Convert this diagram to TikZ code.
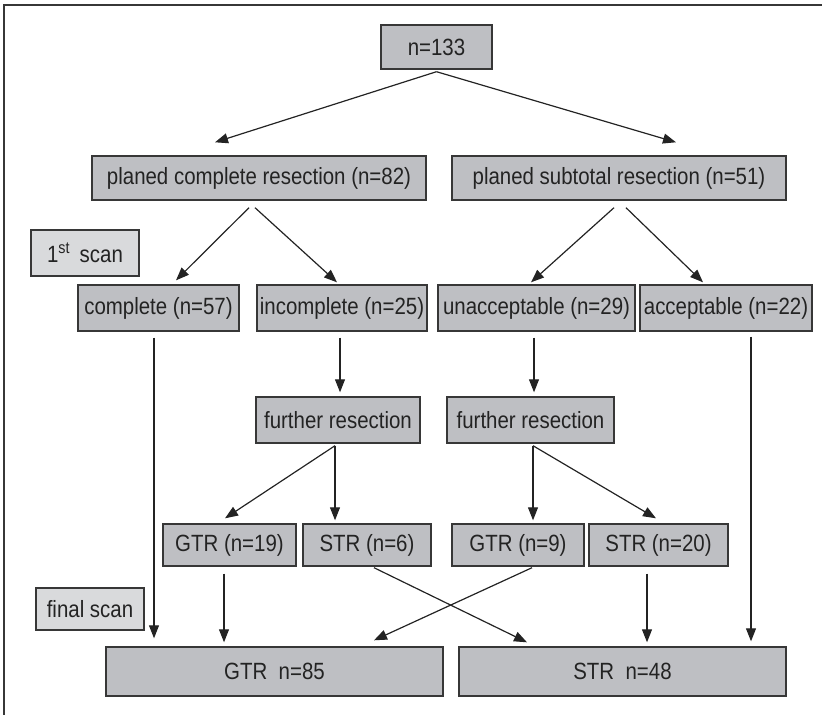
\documentclass[tikz,border=0pt]{standalone}
\usepackage{fontspec}
\setmainfont{Liberation Sans}[FakeStretch=0.87]
\usetikzlibrary{arrows.meta, positioning}
\definecolor{boxgray}{RGB}{190,191,195}
\definecolor{labgray}{RGB}{217,218,220}
\definecolor{edgegray}{RGB}{55,55,55}
\definecolor{inkgray}{RGB}{35,35,35}

\begin{document}
\begin{tikzpicture}[x=1pt,y=-1pt,->,>={Triangle[length=13pt,width=10pt]},
    line width=1.2pt,draw=inkgray,font=\fontsize{23.5}{26}\selectfont]
  \tikzstyle{obj}=[draw=edgegray,line width=1.4pt,fill=boxgray,text=inkgray,
    inner sep=0pt,minimum height=46pt]
  \tikzstyle{lab}=[obj,fill=labgray]
  \useasboundingbox (0,0) rectangle (822,715);
  % frame
  \draw[-,line width=1.4pt,edgegray] (822,5) -- (4,5) -- (4,715);

  \node[obj,minimum width=111pt,minimum height=44pt] (n133) at (436.5,47) {n=133};
  \node[obj,minimum width=334pt,minimum height=44pt] (pcr) at (259,178) {planed complete resection (n=82)};
  \node[obj,minimum width=334pt,minimum height=44pt] (psr) at (619,178) {planed subtotal resection (n=51)};

  \node[lab,minimum width=108pt] (scan1) at (85,253) {1\textsuperscript{st}\, scan};
  \node[obj,minimum width=161pt] (comp) at (158.5,308) {complete (n=57)};
  \node[obj,minimum width=170pt] (incomp) at (342,308) {incomplete (n=25)};
  \node[obj,minimum width=197pt] (unacc) at (536.5,308) {unacceptable (n=29)};
  \node[obj,minimum width=172pt] (acc) at (726,308) {acceptable (n=22)};

  \node[obj,minimum width=164pt] (fur1) at (338,420) {further resection};
  \node[obj,minimum width=167pt] (fur2) at (530.5,420) {further resection};

  \node[obj,minimum width=133pt,minimum height=42pt] (gtr19) at (229.5,545) {GTR (n=19)};
  \node[obj,minimum width=128pt,minimum height=42pt] (str6) at (367,545) {STR (n=6)};
  \node[obj,minimum width=132pt,minimum height=42pt] (gtr9) at (518,545) {GTR (n=9)};
  \node[obj,minimum width=139pt,minimum height=42pt] (str20) at (658.5,545) {STR (n=20)};

  \node[lab,minimum width=108pt,minimum height=42pt] (final) at (90,609) {final scan};
  \node[obj,minimum width=337pt,minimum height=49pt] (gtr85) at (274.5,671.5) {GTR\ \ n=85};
  \node[obj,minimum width=327pt,minimum height=49pt] (str48) at (622.5,671.5) {STR\ \ n=48};

  \path ([yshift=-2pt]n133.south) edge ([xshift=-44pt,yshift=13pt]pcr.north)
        ([yshift=-2pt]n133.south) edge ([xshift=57pt,yshift=13pt]psr.north)
        ([xshift=-10pt,yshift=-7pt]pcr.south) edge ([xshift=17.5pt,yshift=4pt]comp.north)
        ([xshift=-4pt,yshift=-7pt]pcr.south) edge ([xshift=-5pt,yshift=2pt]incomp.north)
        ([xshift=-5pt,yshift=-7pt]psr.south) edge ([xshift=-5.5pt,yshift=2pt]unacc.north)
        ([xshift=7pt,yshift=-7pt]psr.south) edge ([xshift=-23pt,yshift=2pt]acc.north)
        ([xshift=-4.5pt,yshift=-6pt]comp.south) edge ([xshift=-120.5pt,yshift=8pt]gtr85.north)
        ([xshift=-2pt,yshift=-6pt]incomp.south) edge ([xshift=2pt,yshift=4pt]fur1.north)
        ([xshift=-2.5pt,yshift=-6pt]unacc.south) edge ([xshift=3.5pt,yshift=4pt]fur2.north)
        ([xshift=25pt,yshift=-5pt]acc.south) edge ([xshift=128.5pt,yshift=5pt]str48.north)
        ([xshift=-3pt,yshift=-2pt]fur1.south) edge ([xshift=-4.5pt,yshift=5pt]gtr19.north)
        ([xshift=-3pt,yshift=-2pt]fur1.south) edge ([xshift=-32pt,yshift=3pt]str6.north)
        ([xshift=2.5pt,yshift=-2pt]fur2.south) edge ([xshift=15pt,yshift=3pt]gtr9.north)
        ([xshift=2.5pt,yshift=-2pt]fur2.south) edge ([xshift=-2.5pt,yshift=5pt]str20.north)
        ([xshift=-5.5pt,yshift=-7pt]gtr19.south) edge ([xshift=-50.5pt,yshift=4pt]gtr85.north)
        ([xshift=-11.5pt,yshift=-7pt]str20.south) edge ([xshift=24.5pt,yshift=4pt]str48.north)
        ([xshift=7pt,yshift=-1pt]str6.south) edge ([xshift=-95.5pt,yshift=4pt]str48.north)
        ([xshift=14pt,yshift=-1pt]gtr9.south) edge ([xshift=99.5pt,yshift=6pt]gtr85.north);
\end{tikzpicture}
\end{document}
